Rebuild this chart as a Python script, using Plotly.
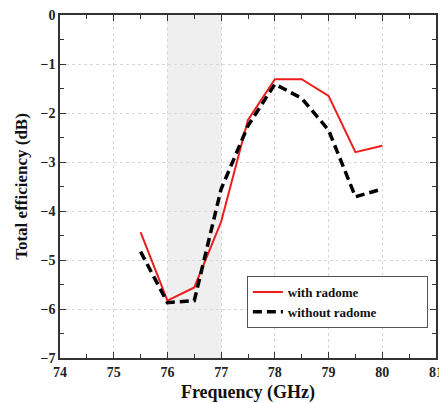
import plotly.graph_objects as go

freq = [75.5, 76, 76.5, 77, 77.5, 78, 78.5, 79, 79.5, 80]
with_radome = [-4.43, -5.83, -5.56, -4.22, -2.14, -1.31, -1.31, -1.65, -2.80, -2.67]
without_radome = [-4.83, -5.87, -5.83, -3.55, -2.26, -1.41, -1.70, -2.35, -3.71, -3.55]
band = [76, 77]
x_ticks = [74, 75, 76, 77, 78, 79, 80, 81]
y_ticks = [0, -1, -2, -3, -4, -5, -6, -7]
series_names = ["with radome", "without radome"]

font_fam = "Liberation Serif, Times New Roman, serif"
pad = "\u00a0" * 14

fig = go.Figure()
fig.add_trace(go.Scatter(x=freq, y=with_radome, mode="lines", name=series_names[0] + pad,
                         line=dict(color="#ee1c1c", width=2)))
fig.add_trace(go.Scatter(x=freq, y=without_radome, mode="lines", name=series_names[1] + pad,
                         line=dict(color="black", width=3.5, dash="9px,5px")))

fig.add_shape(type="rect", xref="x", yref="paper", x0=band[0], x1=band[1], y0=0, y1=1,
              fillcolor="#efefef", line_width=0, layer="below")

axis_common = dict(
    showline=True, linecolor="#333", linewidth=1.5, mirror="ticks",
    ticks="inside", ticklen=6, tickcolor="#333",
    showgrid=True, gridcolor="#d8d8d8", griddash="dot", gridwidth=1,
    zeroline=False, automargin=False, ticklabeloverflow="allow",
    tickfont=dict(family=font_fam, size=14, color="#222"),
    minor=dict(ticks="inside", ticklen=4, tickcolor="#333", showgrid=False),
)

fig.update_xaxes(range=[74, 81], tickmode="array", tickvals=x_ticks,
                 ticktext=["<b>%g</b>" % v for v in x_ticks], minor_dtick=0.5, minor_tick0=74,
                 title=dict(text="<b>Frequency (GHz)</b>", font=dict(family=font_fam, size=18, color="#111"),
                            standoff=14),
                 **axis_common)
fig.update_yaxes(range=[-7, 0], tickmode="array", tickvals=y_ticks,
                 ticktext=["<b>%s</b>" % ("0" if v == 0 else "\u2212%d" % -v) for v in y_ticks],
                 minor_dtick=0.5, minor_tick0=0,
                 title=dict(text="<b>Total efficiency (dB)</b>", font=dict(family=font_fam, size=17, color="#111"),
                            standoff=9),
                 **axis_common)

fig.update_layout(
    width=439, height=403,
    margin=dict(l=60, r=3, t=15, b=45),
    paper_bgcolor="white", plot_bgcolor="white",
    showlegend=True,
    legend=dict(x=0.497, y=0.239, xanchor="left", yanchor="top",
                bgcolor="white", bordercolor="#555", borderwidth=1,
                font=dict(family=font_fam, size=13, color="#111", weight="bold"),
                tracegroupgap=0, itemwidth=30),
)

fig.write_html("out.html", config={"displayModeBar": False},
               post_script="document.body.style.margin='0';document.body.style.overflow='hidden';")
